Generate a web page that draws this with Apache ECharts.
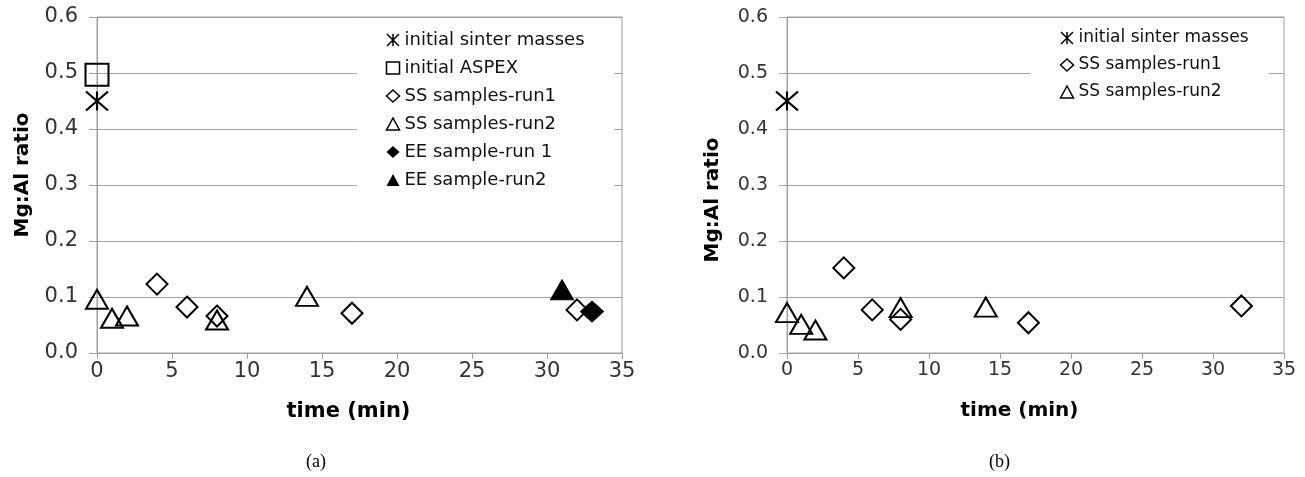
<!DOCTYPE html>
<html><head><meta charset="utf-8">
<script src="https://cdn.jsdelivr.net/npm/echarts@6/dist/echarts.min.js"></script>
<style>html,body{margin:0;padding:0;background:#fff}#c{width:1305px;height:477px}</style>
</head><body><div id="c"></div>
<script>
// ---- data: panel (a) ----
const a_initialSinter = [[0, 0.45]];
const a_initialAspex  = [[0, 0.497]];
const a_ssRun1 = [[4, 0.123], [6, 0.082], [8, 0.066], [17, 0.071], [32, 0.077]];
const a_ssRun2 = [[0, 0.096], [1, 0.062], [2, 0.066], [8, 0.059], [14, 0.101]];
const a_eeRun1 = [[33, 0.074]];
const a_eeRun2 = [[31, 0.113]];
// ---- data: panel (b) ----
const b_initialSinter = [[0, 0.45]];
const b_ssRun1 = [[4, 0.152], [6, 0.077], [8, 0.060], [17, 0.054], [32, 0.084]];
const b_ssRun2 = [[0, 0.072], [1, 0.051], [2, 0.041], [8, 0.081], [14, 0.082]];
// ---- names / labels ----
const legendA = ['initial sinter masses', 'initial ASPEX', 'SS samples-run1', 'SS samples-run2', 'EE sample-run 1', 'EE sample-run2'];
const legendB = ['initial sinter masses', 'SS samples-run1', 'SS samples-run2'];
const xTitle = 'time (min)';
const yTitle = 'Mg:Al ratio';
const captions = ['(a)', '(b)'];

const LIGHT = '"DejaVu Sans ExtraLight", "DejaVu Sans", sans-serif';
const STAR = 'path://M0,0L20,20M20,0L0,20M10,0L10,20';
const symbols = {
  'initial sinter masses': {symbol: STAR, size: [22, 19], filled: false},
  'initial ASPEX': {symbol: 'rect', size: [23, 22], filled: false},
  'SS samples-run1': {symbol: 'diamond', size: [21, 21], filled: false},
  'SS samples-run2': {symbol: 'triangle', size: [22, 19], filled: false},
  'EE sample-run 1': {symbol: 'diamond', size: [23, 21], filled: true},
  'EE sample-run2': {symbol: 'triangle', size: [23, 20], filled: true}
};
function mk(name, data, idx) {
  const s = symbols[name];
  return {
    type: 'scatter', name, data, xAxisIndex: idx, yAxisIndex: idx,
    symbol: s.symbol, symbolSize: s.size, z: 3,
    itemStyle: s.filled ? {color: '#000', borderColor: '#000', borderWidth: 1, opacity: 1}
                        : {color: 'none', borderColor: '#000', borderWidth: 2, opacity: 1},
    emphasis: {disabled: true}
  };
}
function legendData(names) {
  return names.map(n => {
    const s = symbols[n];
    return {name: n, icon: s.symbol,
      itemStyle: s.filled ? {color: '#000', borderWidth: 0} : {color: 'none', borderColor: '#000', borderWidth: 1.5}};
  });
}
const GRAY = '#a0a0a0';
function xAxis(idx, fs, nfs, padR) {
  return {
    type: 'value', gridIndex: idx, min: 0, max: 35, interval: 5,
    axisLine: {show: true, lineStyle: {color: GRAY, width: 1}},
    axisTick: {show: true, length: 6, lineStyle: {color: GRAY}},
    splitLine: {show: false},
    axisLabel: {fontFamily: LIGHT, fontSize: fs, color: '#333', margin: 8},
    name: xTitle, nameLocation: 'middle', nameGap: 48,
    nameTextStyle: {fontFamily: 'DejaVu Sans', fontWeight: 'bold', fontSize: nfs, color: '#000', padding: [0, padR, 0, 0]}
  };
}
function yAxis(idx, fs, pad) {
  return {
    type: 'value', gridIndex: idx, min: 0, max: 0.6, interval: 0.1,
    axisLine: {show: true, lineStyle: {color: GRAY, width: 1}},
    axisTick: {show: true, length: 8, lineStyle: {color: GRAY}},
    splitLine: {show: true, lineStyle: {color: GRAY, width: 1}},
    axisLabel: {fontFamily: LIGHT, fontSize: fs, color: '#333', margin: 19, formatter: v => v.toFixed(1)},
    name: yTitle, nameLocation: 'middle', nameGap: 64,
    nameTextStyle: {fontFamily: 'DejaVu Sans', fontWeight: 'bold', fontSize: 20, color: '#000', padding: pad}
  };
}
const chart = echarts.init(document.getElementById('c'), null, {renderer: 'canvas'});
chart.setOption({
  animation: false,
  backgroundColor: '#fff',
  grid: [
    {left: 97, top: 17, width: 525, height: 336, show: true, borderColor: GRAY, borderWidth: 1, backgroundColor: 'transparent'},
    {left: 787, top: 17, width: 497, height: 336, show: true, borderColor: GRAY, borderWidth: 1, backgroundColor: 'transparent'}
  ],
  xAxis: [xAxis(0, 21, 21, 22), xAxis(1, 19, 20, 32)],
  yAxis: [yAxis(0, 21, [0, 0, 0, 20]), yAxis(1, 19, [0, 30, 0, 0])],
  legend: [
    {left: 357, top: 18, orient: 'vertical', itemWidth: 13, itemHeight: 12, itemGap: 8,
     padding: [12, 30, 12, 27], backgroundColor: '#fff', selectedMode: false, z: 2,
     textStyle: {fontFamily: LIGHT, fontSize: 18, color: '#111', lineHeight: 20},
     data: legendData(legendA)},
    {left: 1030, top: 18, orient: 'vertical', itemWidth: 13, itemHeight: 12, itemGap: 7,
     padding: [10, 20, 10, 28], backgroundColor: '#fff', selectedMode: false, z: 2,
     textStyle: {fontFamily: LIGHT, fontSize: 17, color: '#111', lineHeight: 20},
     data: legendData(legendB)}
  ],
  graphic: [
    {type: 'text', left: 306, top: 453, style: {text: captions[0], font: '18px "Liberation Serif"', fill: '#000'}},
    {type: 'text', left: 989, top: 453, style: {text: captions[1], font: '18px "Liberation Serif"', fill: '#000'}}
  ],
  series: [
    mk('initial sinter masses', a_initialSinter, 0),
    mk('initial ASPEX', a_initialAspex, 0),
    mk('SS samples-run1', a_ssRun1, 0),
    mk('SS samples-run2', a_ssRun2, 0),
    mk('EE sample-run 1', a_eeRun1, 0),
    mk('EE sample-run2', a_eeRun2, 0),
    mk('initial sinter masses', b_initialSinter, 1),
    mk('SS samples-run1', b_ssRun1, 1),
    mk('SS samples-run2', b_ssRun2, 1)
  ]
});
</script></body></html>
